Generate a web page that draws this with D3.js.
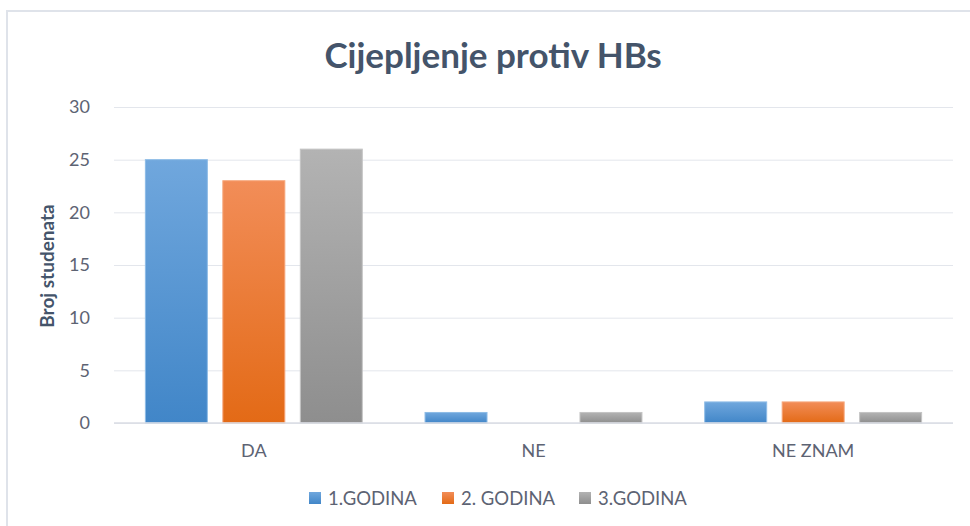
<!DOCTYPE html>
<html>
<head>
<meta charset="utf-8">
<script src="https://cdn.jsdelivr.net/npm/d3@7"></script>
<style>
  body { margin: 0; background: #fff; }
  text { font-family: Lato, "Open Sans", sans-serif; }
</style>
</head>
<body>
<div id="chart"></div>
<script>
var categories = ["DA", "NE", "NE ZNAM"];
var seriesNames = ["1.GODINA", "2. GODINA", "3.GODINA"];
var godina1 = [25, 1, 2];
var godina2 = [23, 0, 2];
var godina3 = [26, 1, 1];
var yTicks = [0, 5, 10, 15, 20, 25, 30];

var seriesValues = [godina1, godina2, godina3];

var chart_width = 970;
var chart_height = 526;
var left = 114;
var right = 953;

var colors = [
  { top: "#70a7dd", bottom: "#4186c8", edge: "#8dbbe6" },
  { top: "#f28d58", bottom: "#e36a16", edge: "#f6a67a" },
  { top: "#b3b3b3", bottom: "#8e8e8e", edge: "#c4c4c4" }
];

var svg = d3.select('#chart')
  .append('svg')
  .attr('width', chart_width)
  .attr('height', chart_height);

// gradients
var defs = svg.append('defs');
colors.forEach(function(c, i){
  var g = defs.append('linearGradient')
    .attr('id', 'grad' + i)
    .attr('x1', 0).attr('y1', 0).attr('x2', 0).attr('y2', 1);
  g.append('stop').attr('offset', '0%').attr('stop-color', c.top);
  g.append('stop').attr('offset', '100%').attr('stop-color', c.bottom);
});

// chart frame
svg.append('path')
  .attr('d', 'M7,' + chart_height + ' V11 H' + chart_width)
  .attr('fill', 'none')
  .attr('stroke', '#dfe3ea')
  .attr('stroke-width', 2);

// Scales
var x0 = d3.scaleBand()
  .domain(categories)
  .range([left, right]);

var x1 = d3.scaleBand()
  .domain(d3.range(seriesNames.length))
  .range([0, x0.bandwidth()])
  .paddingInner(0.2)
  .paddingOuter(0.405);

var y = d3.scaleLinear()
  .domain([0, 30])
  .range([423, 107]);

// gridlines
var yAxis = d3.axisLeft(y)
  .tickValues(yTicks)
  .tickSize(-(right - left))
  .tickPadding(24);

svg.append('g')
  .attr('class', 'y-axis')
  .attr('transform', 'translate(' + left + ',0)')
  .call(yAxis)
  .call(function(g){
    g.select('.domain').remove();
    g.selectAll('line').attr('stroke', '#e3e6ec').attr('stroke-width', 1);
    g.selectAll('text')
      .attr('fill', '#5d6373')
      .style('font-size', '18px');
  });

// bars
var groups = svg.append('g')
  .selectAll('g')
  .data(categories)
  .enter()
  .append('g')
  .attr('transform', function(d){ return 'translate(' + x0(d) + ',0)'; });

groups.selectAll('rect')
  .data(function(d, ci){
    return seriesValues.map(function(s, si){ return { si: si, v: s[ci] }; });
  })
  .enter()
  .filter(function(d){ return d.v > 0; })
  .append('rect')
  .attr('x', function(d){ return x1(d.si); })
  .attr('y', function(d){ return y(d.v); })
  .attr('width', x1.bandwidth())
  .attr('height', function(d){ return y(0) - y(d.v); })
  .attr('fill', function(d){ return 'url(#grad' + d.si + ')'; })
  .attr('stroke', function(d){ return colors[d.si].edge; })
  .attr('stroke-width', 1);

// baseline
svg.append('line')
  .attr('x1', left).attr('x2', right)
  .attr('y1', y(0)).attr('y2', y(0))
  .attr('stroke', '#dadde5')
  .attr('stroke-width', 1.5);

// x axis labels
var xAxis = d3.axisBottom(x0).tickSize(0).tickPadding(21);
svg.append('g')
  .attr('class', 'x-axis')
  .attr('transform', 'translate(0,' + y(0) + ')')
  .call(xAxis)
  .call(function(g){
    g.select('.domain').remove();
    g.selectAll('text')
      .attr('fill', '#5d6373')
      .style('font-size', '18px');
  });

// title
svg.append('text')
  .attr('x', 493)
  .attr('y', 68)
  .attr('text-anchor', 'middle')
  .attr('fill', '#44546a')
  .style('font-size', '35px')
  .style('font-weight', 'bold')
  .text('Cijepljenje protiv HBs');

// y label
svg.append('text')
  .attr('transform', 'translate(54,266) rotate(-90)')
  .attr('text-anchor', 'middle')
  .attr('fill', '#44546a')
  .style('font-size', '19px')
  .style('font-weight', 'bold')
  .text('Broj studenata');

// legend
var legendX = [309, 442, 579];
var legend = svg.append('g')
  .selectAll('g')
  .data(seriesNames)
  .enter()
  .append('g')
  .attr('transform', function(d, i){ return 'translate(' + legendX[i] + ',492)'; });

legend.append('rect')
  .attr('width', 12).attr('height', 12)
  .attr('fill', function(d, i){ return 'url(#grad' + i + ')'; });

legend.append('text')
  .attr('x', 19)
  .attr('y', 12.5)
  .attr('fill', '#5d6373')
  .style('font-size', '18.5px')
  .text(function(d){ return d; });
</script>
</body>
</html>
